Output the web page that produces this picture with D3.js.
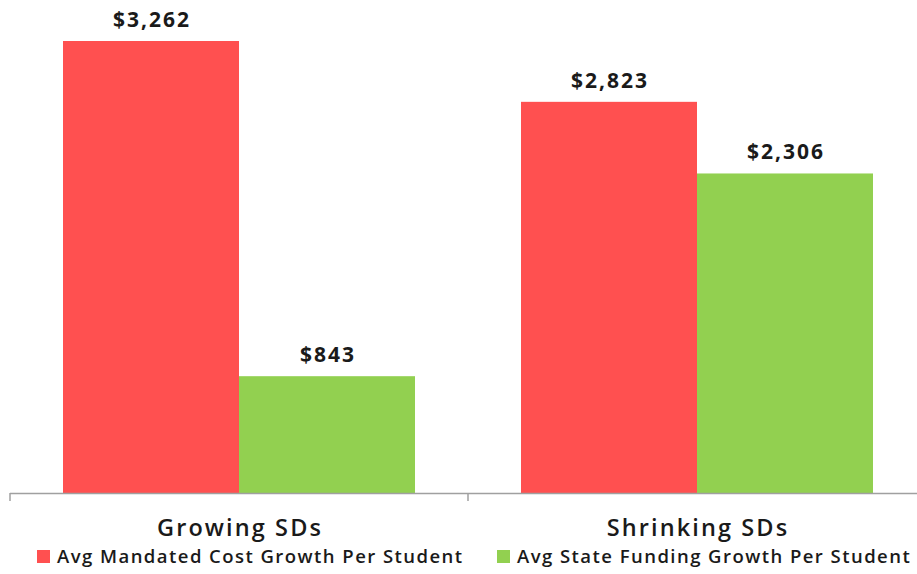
<!DOCTYPE html>
<html><head><meta charset="utf-8">
<script src="https://cdn.jsdelivr.net/npm/d3@7"></script>
<style>body{margin:0;background:#fff}svg{display:block}text{font-family:"Open Sans",sans-serif;fill:#1a1a1a}</style>
</head><body><svg id="c" width="917" height="574"></svg>
<script>
const categories = ["Growing SDs", "Shrinking SDs"];
const seriesNames = ["Avg Mandated Cost Growth Per Student", "Avg State Funding Growth Per Student"];
const mandatedCost = [3262, 2823];
const stateFunding = [843, 2306];
const colors = ["#ff5050", "#92d050"];

const svg = d3.select("#c");
const x0 = d3.scaleBand().domain(categories).range([10, 926]).paddingInner(0).paddingOuter(0);
const x1 = d3.scaleBand().domain(seriesNames).range([53, 405]);
const y = d3.scaleLinear().domain([0, 3262]).range([493, 41]);
const fmt = d3.format("$,");

const data = categories.map((c, i) => ({cat: c, vals: [mandatedCost[i], stateFunding[i]]}));

const g = svg.selectAll("g.cat").data(data).join("g").attr("class", "cat")
  .attr("transform", d => `translate(${x0(d.cat)},0)`);
g.selectAll("rect").data(d => d.vals.map((v, j) => ({v, s: seriesNames[j], j})))
  .join("rect")
  .attr("x", d => x1(d.s)).attr("width", x1.bandwidth())
  .attr("y", d => y(d.v)).attr("height", d => y(0) - y(d.v))
  .attr("fill", d => colors[d.j]);
g.selectAll("text.val").data(d => d.vals.map((v, j) => ({v, s: seriesNames[j]})))
  .join("text").attr("class", "val")
  .attr("x", d => x1(d.s) + x1.bandwidth() / 2 + 1).attr("y", d => y(d.v) - 14)
  .attr("text-anchor", "middle").attr("font-size", 21).attr("font-weight", 700)
  .attr("letter-spacing", 2)
  .text(d => fmt(d.v));

const axis = d3.axisBottom(x0).tickSize(8).tickFormat("");
const ax = svg.append("g").attr("transform", `translate(0,${y(0)})`).call(axis);
ax.select(".domain").attr("stroke", "#a0a0a0").attr("stroke-width", 1.5).attr("d", `M10,0.5H926`);
ax.selectAll(".tick").remove();
const tickPos = [10, 468];
ax.selectAll("line.t").data(tickPos).join("line").attr("class", "t")
  .attr("x1", d => d).attr("x2", d => d).attr("y1", 0).attr("y2", 8)
  .attr("stroke", "#a0a0a0").attr("stroke-width", 1.5);

svg.selectAll("text.cat").data(categories).join("text").attr("class", "cat")
  .attr("x", d => x0(d) + 230).attr("y", 536)
  .attr("text-anchor", "middle").attr("font-size", 23.5).attr("font-weight", 600)
  .attr("letter-spacing", 2.1)
  .text(d => d);

const legX = [37, 497];
const lg = svg.selectAll("g.leg").data(seriesNames).join("g").attr("class", "leg")
  .attr("transform", (d, i) => `translate(${legX[i]},556)`);
lg.append("rect").attr("x", 0).attr("y", -6).attr("width", 13).attr("height", 13)
  .attr("fill", (d, i) => colors[i]);
lg.append("text").attr("x", 20).attr("y", 7).attr("font-size", 18.5).attr("font-weight", 600)
  .attr("letter-spacing", 1.45)
  .text(d => d);
</script></body></html>
